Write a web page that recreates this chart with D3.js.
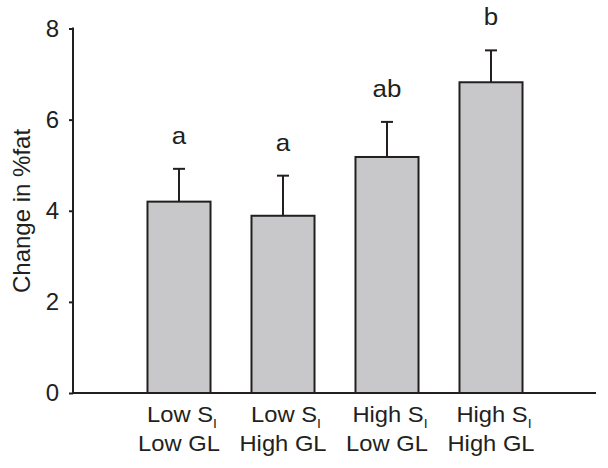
<!DOCTYPE html>
<html>
<head>
<meta charset="utf-8">
<script src="https://cdn.jsdelivr.net/npm/d3@7"></script>
<style>
  body { margin: 0; background: #fff; }
  svg text { font-family: "Liberation Sans", Arial, Helvetica, sans-serif; fill: #231f20; }
</style>
</head>
<body>
<svg id="chart" width="608" height="468"></svg>
<script>
// Data
const categories = ["LowSI_LowGL", "LowSI_HighGL", "HighSI_LowGL", "HighSI_HighGL"];
const line1Main = ["Low S", "Low S", "High S", "High S"];
const line1Sub = ["I", "I", "I", "I"];
const line2 = ["Low GL", "High GL", "Low GL", "High GL"];
const means = [4.2, 3.89, 5.18, 6.82];
const errors = [0.72, 0.88, 0.77, 0.70];
const letters = ["a", "a", "ab", "b"];
const yTicks = [0, 2, 4, 6, 8];
const yTitle = "Change in %fat";

const svg = d3.select("#chart");
const axisColor = "#231f20";
const sx = 1.08;

const y = d3.scaleLinear().domain([0, 8]).range([393, 28.5]);
const x = d3.scaleBand().domain(categories).range([127, 543])
  .paddingInner(0.394).paddingOuter(0.197);

// Bars
svg.selectAll("rect.bar").data(categories).enter().append("rect")
  .attr("class", "bar")
  .attr("x", d => x(d))
  .attr("width", x.bandwidth())
  .attr("y", (d, i) => y(means[i]))
  .attr("height", (d, i) => y(0) - y(means[i]))
  .attr("fill", "#c8c8ca")
  .attr("stroke", axisColor)
  .attr("stroke-width", 2);

// Error bars and letters
const capHalf = 6;
categories.forEach((c, i) => {
  const cx = x(c) + x.bandwidth() / 2;
  svg.append("line")
    .attr("x1", cx).attr("x2", cx)
    .attr("y1", y(means[i])).attr("y2", y(means[i] + errors[i]))
    .attr("stroke", axisColor).attr("stroke-width", 2);
  svg.append("line")
    .attr("x1", cx - capHalf).attr("x2", cx + capHalf)
    .attr("y1", y(means[i] + errors[i])).attr("y2", y(means[i] + errors[i]))
    .attr("stroke", axisColor).attr("stroke-width", 2);
  svg.append("text")
    .attr("transform", `translate(${cx},${y(means[i] + errors[i]) - 25}) scale(${sx},1)`)
    .attr("text-anchor", "middle")
    .attr("font-size", 24)
    .text(letters[i]);
});

// Y axis
const yAxis = d3.axisLeft(y).tickValues(yTicks).tickSize(4).tickPadding(10);
const gy = svg.append("g").attr("transform", "translate(73,0)").call(yAxis);
gy.select(".domain").remove();
gy.selectAll(".tick line").attr("stroke", axisColor).attr("stroke-width", 2);
gy.selectAll(".tick text").attr("font-size", 24)
  .style("font-family", '"Liberation Sans", Arial, sans-serif').attr("fill", axisColor);
svg.append("line").attr("x1", 73).attr("x2", 73)
  .attr("y1", y(8) - 1).attr("y2", y(0) + 1)
  .attr("stroke", axisColor).attr("stroke-width", 2);

// X axis line
svg.append("line").attr("x1", 72).attr("x2", 596)
  .attr("y1", y(0)).attr("y2", y(0))
  .attr("stroke", axisColor).attr("stroke-width", 2);

// Category labels
categories.forEach((c, i) => {
  const cx = x(c) + x.bandwidth() / 2;
  const t1 = svg.append("text")
    .attr("transform", `translate(${cx + 3},422) scale(${sx},1)`)
    .attr("text-anchor", "middle")
    .attr("font-size", 22);
  t1.append("tspan").text(line1Main[i]);
  t1.append("tspan").attr("font-size", 13).attr("dy", 6).text(line1Sub[i]);
  svg.append("text")
    .attr("transform", `translate(${cx},451) scale(${sx},1)`)
    .attr("text-anchor", "middle")
    .attr("font-size", 22)
    .text(line2[i]);
});

// Y title
svg.append("text")
  .attr("transform", "translate(30," + ((127 + 295) / 2) + ") rotate(-90)")
  .attr("text-anchor", "middle")
  .attr("font-size", 24)
  .text(yTitle);
</script>
</body>
</html>
